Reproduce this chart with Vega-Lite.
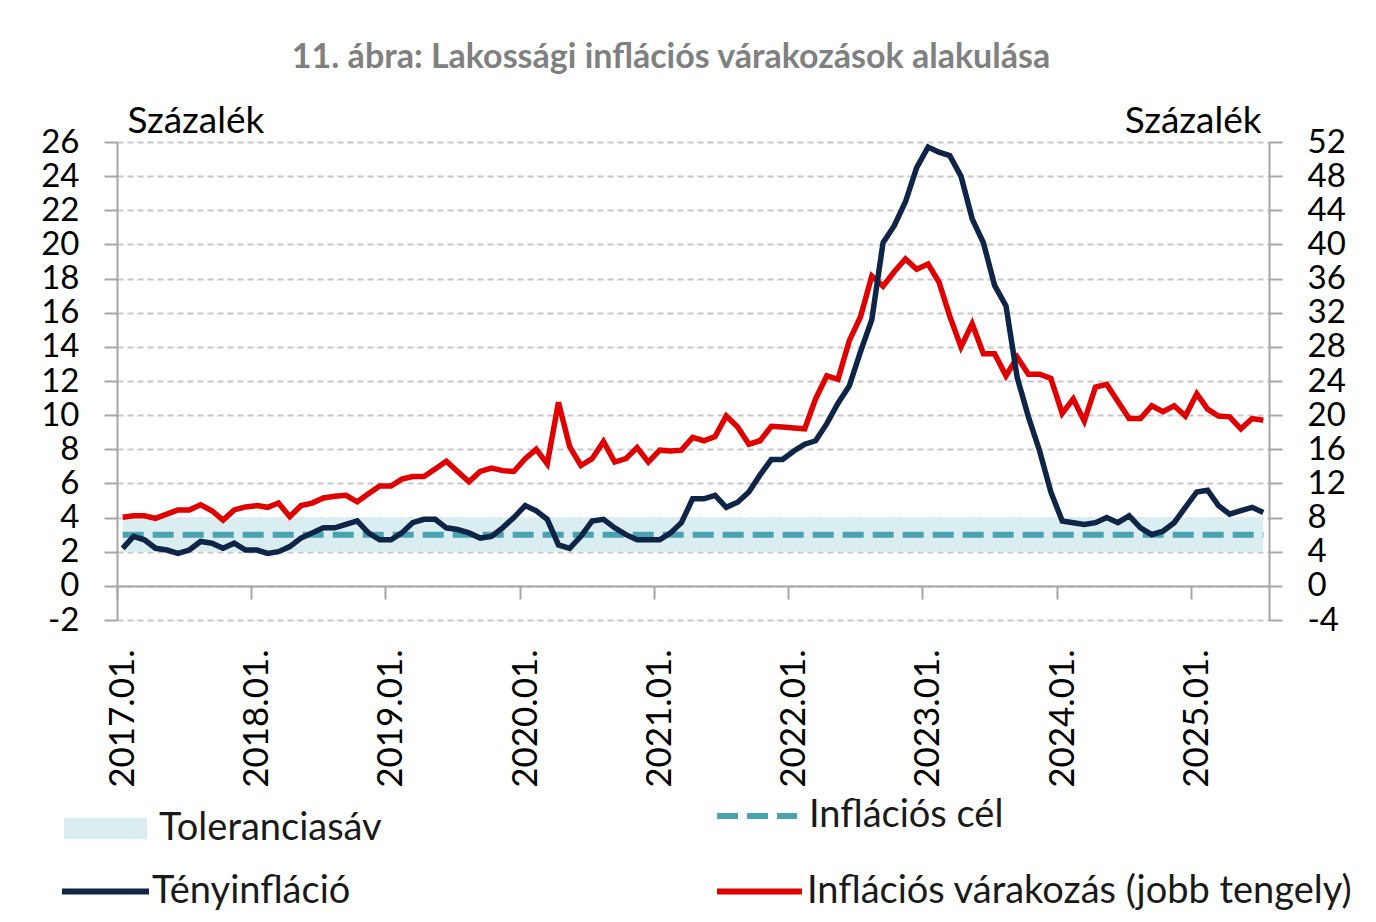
{
  "$schema": "https://vega.github.io/schema/vega-lite/v6.json",
  "width": 1152,
  "height": 478,
  "padding": {"left": 40, "top": 41, "right": 10, "bottom": 5},
  "background": "white",
  "config": {"view": {"stroke": null}, "font": "Lato", "axis": {"labelOverlap": false}},
  "title": {"text": "11. ábra: Lakossági inflációs várakozások alakulása", "anchor": "middle", "frame": "group", "offset": 27, "fontSize": 34, "font": "Lato", "fontWeight": "bold", "color": "#808080", "dx": -22},
  "data": {"values": [
    {"d":"2017-01","inf":2.2,"exp":8.05},{"d":"2017-02","inf":2.9,"exp":8.2},{"d":"2017-03","inf":2.7,"exp":8.2},{"d":"2017-04","inf":2.2,"exp":7.9},{"d":"2017-05","inf":2.1,"exp":8.4},{"d":"2017-06","inf":1.9,"exp":8.9},{"d":"2017-07","inf":2.1,"exp":8.9},{"d":"2017-08","inf":2.6,"exp":9.5},{"d":"2017-09","inf":2.5,"exp":8.8},{"d":"2017-10","inf":2.2,"exp":7.7},{"d":"2017-11","inf":2.5,"exp":8.9},{"d":"2017-12","inf":2.1,"exp":9.25},
    {"d":"2018-01","inf":2.1,"exp":9.4},{"d":"2018-02","inf":1.9,"exp":9.2},{"d":"2018-03","inf":2.0,"exp":9.7},{"d":"2018-04","inf":2.3,"exp":8.1},{"d":"2018-05","inf":2.8,"exp":9.4},{"d":"2018-06","inf":3.1,"exp":9.7},{"d":"2018-07","inf":3.4,"exp":10.3},{"d":"2018-08","inf":3.4,"exp":10.5},{"d":"2018-09","inf":3.6,"exp":10.6},{"d":"2018-10","inf":3.8,"exp":9.85},{"d":"2018-11","inf":3.1,"exp":10.8},{"d":"2018-12","inf":2.7,"exp":11.7},
    {"d":"2019-01","inf":2.7,"exp":11.7},{"d":"2019-02","inf":3.1,"exp":12.5},{"d":"2019-03","inf":3.7,"exp":12.8},{"d":"2019-04","inf":3.9,"exp":12.8},{"d":"2019-05","inf":3.9,"exp":13.7},{"d":"2019-06","inf":3.4,"exp":14.6},{"d":"2019-07","inf":3.3,"exp":13.4},{"d":"2019-08","inf":3.1,"exp":12.2},{"d":"2019-09","inf":2.8,"exp":13.4},{"d":"2019-10","inf":2.9,"exp":13.8},{"d":"2019-11","inf":3.4,"exp":13.5},{"d":"2019-12","inf":4.0,"exp":13.4},
    {"d":"2020-01","inf":4.7,"exp":14.9},{"d":"2020-02","inf":4.4,"exp":16.0},{"d":"2020-03","inf":3.9,"exp":14.3},{"d":"2020-04","inf":2.4,"exp":21.5},{"d":"2020-05","inf":2.2,"exp":16.3},{"d":"2020-06","inf":2.9,"exp":14.1},{"d":"2020-07","inf":3.8,"exp":14.9},{"d":"2020-08","inf":3.9,"exp":16.9},{"d":"2020-09","inf":3.4,"exp":14.5},{"d":"2020-10","inf":3.0,"exp":14.9},{"d":"2020-11","inf":2.7,"exp":16.2},{"d":"2020-12","inf":2.7,"exp":14.5},
    {"d":"2021-01","inf":2.7,"exp":15.9},{"d":"2021-02","inf":3.1,"exp":15.8},{"d":"2021-03","inf":3.7,"exp":15.9},{"d":"2021-04","inf":5.1,"exp":17.4},{"d":"2021-05","inf":5.1,"exp":17.0},{"d":"2021-06","inf":5.3,"exp":17.5},{"d":"2021-07","inf":4.6,"exp":19.9},{"d":"2021-08","inf":4.9,"exp":18.6},{"d":"2021-09","inf":5.5,"exp":16.6},{"d":"2021-10","inf":6.5,"exp":17.0},{"d":"2021-11","inf":7.4,"exp":18.7},{"d":"2021-12","inf":7.4,"exp":18.6},
    {"d":"2022-01","inf":7.9,"exp":18.5},{"d":"2022-02","inf":8.3,"exp":18.4},{"d":"2022-03","inf":8.5,"exp":21.9},{"d":"2022-04","inf":9.5,"exp":24.6},{"d":"2022-05","inf":10.7,"exp":24.2},{"d":"2022-06","inf":11.7,"exp":28.7},{"d":"2022-07","inf":13.7,"exp":31.5},{"d":"2022-08","inf":15.6,"exp":36.3},{"d":"2022-09","inf":20.1,"exp":35.1},{"d":"2022-10","inf":21.1,"exp":36.8},{"d":"2022-11","inf":22.5,"exp":38.3},{"d":"2022-12","inf":24.5,"exp":37.1},
    {"d":"2023-01","inf":25.7,"exp":37.7},{"d":"2023-02","inf":25.4,"exp":35.6},{"d":"2023-03","inf":25.2,"exp":31.6},{"d":"2023-04","inf":24.0,"exp":28.0},{"d":"2023-05","inf":21.5,"exp":30.7},{"d":"2023-06","inf":20.1,"exp":27.2},{"d":"2023-07","inf":17.6,"exp":27.2},{"d":"2023-08","inf":16.4,"exp":24.6},{"d":"2023-09","inf":12.2,"exp":26.8},{"d":"2023-10","inf":9.9,"exp":24.8},{"d":"2023-11","inf":7.9,"exp":24.8},{"d":"2023-12","inf":5.5,"exp":24.3},
    {"d":"2024-01","inf":3.8,"exp":20.2},{"d":"2024-02","inf":3.7,"exp":21.9},{"d":"2024-03","inf":3.6,"exp":19.3},{"d":"2024-04","inf":3.7,"exp":23.3},{"d":"2024-05","inf":4.0,"exp":23.6},{"d":"2024-06","inf":3.7,"exp":21.6},{"d":"2024-07","inf":4.1,"exp":19.6},{"d":"2024-08","inf":3.4,"exp":19.6},{"d":"2024-09","inf":3.0,"exp":21.1},{"d":"2024-10","inf":3.2,"exp":20.4},{"d":"2024-11","inf":3.7,"exp":21.1},{"d":"2024-12","inf":4.6,"exp":19.9},
    {"d":"2025-01","inf":5.5,"exp":22.5},{"d":"2025-02","inf":5.6,"exp":20.7},{"d":"2025-03","inf":4.7,"exp":19.9},{"d":"2025-04","inf":4.2,"exp":19.8},{"d":"2025-05","inf":4.4,"exp":18.4},{"d":"2025-06","inf":4.6,"exp":19.6},{"d":"2025-07","inf":4.3,"exp":19.4}
  ]},
  "encoding": {
    "x": {
      "field": "d", "type": "temporal", "timeUnit": "utcyearmonth", "bandPosition": 0.5,
      "scale": {"domain": [{"year": 2017, "month": 1, "date": 1, "utc": true}, {"year": 2025, "month": 8, "date": 1, "utc": true}], "nice": false},
      "axis": {
        "title": null, "orient": "bottom", "offset": -34, "grid": false,
        "values": [{"year":2017,"month":1,"date":1,"utc":true},{"year":2018,"month":1,"date":1,"utc":true},{"year":2019,"month":1,"date":1,"utc":true},{"year":2020,"month":1,"date":1,"utc":true},{"year":2021,"month":1,"date":1,"utc":true},{"year":2022,"month":1,"date":1,"utc":true},{"year":2023,"month":1,"date":1,"utc":true},{"year":2024,"month":1,"date":1,"utc":true},{"year":2025,"month":1,"date":1,"utc":true}],
        "labelExpr": "utcFormat(datum.value, '%Y.%m.')",
        "labelAngle": 270, "labelAlign": "right", "labelBaseline": "middle",
        "labelFont": "Lato", "labelFontSize": 35, "labelColor": "#000000",
        "labelPadding": 50, "labelOffset": 5.6, "labelOverlap": false, "labelFlush": false,
        "domainColor": "#a6a6a6", "domainWidth": 2, "tickColor": "#a6a6a6", "tickWidth": 2, "tickSize": 13
      }
    }
  },
  "layer": [
    {
      "mark": {"type": "area"},
      "encoding": {
        "y": {"datum": 4, "type": "quantitative",
          "scale": {"domain": [-2, 26], "nice": false, "zero": false},
          "axis": {
            "orient": "left", "values": [-2,0,2,4,6,8,10,12,14,16,18,20,22,24,26],
            "labelExpr": "datum.value + ''",
            "title": "Százalék", "titleAngle": 0, "titleAlign": "left", "titleBaseline": "alphabetic", "titleX": 10, "titleY": -10,
            "titleFont": "Lato", "titleFontSize": 37, "titleFontWeight": "normal", "titleColor": "#000000",
            "labelFont": "Lato", "labelFontSize": 33, "labelColor": "#000000", "labelPadding": 25, "labelOverlap": false, "labelFlush": false,
            "domainColor": "#a6a6a6", "domainWidth": 2, "tickColor": "#a6a6a6", "tickWidth": 2, "tickSize": 13,
            "grid": true, "gridColor": "#c8c8c8", "gridWidth": 2, "gridDash": [6, 4]
          }
        },
        "y2": {"datum": 2},
        "fill": {"datum": "Toleranciasáv", "type": "nominal", "scale": {"range": ["#daedf1"]},
          "legend": {"orient": "none", "legendX": -53, "legendY": 645, "title": null, "padding": 0,
            "symbolType": "M-1,-0.26H1V0.26H-1Z", "symbolSize": 6889, "symbolStrokeWidth": 0,
            "labelFont": "Lato", "labelFontSize": 38, "labelColor": "#1a1a1a", "labelLimit": 0, "labelOffset": 12}}
      }
    },
    {
      "mark": {"type": "line", "stroke": "#4ba3b0", "strokeWidth": 6},
      "encoding": {
        "y": {"datum": 3, "type": "quantitative", "scale": {"domain": [-2, 26], "nice": false, "zero": false}, "axis": null},
        "strokeDash": {"datum": "Inflációs cél", "type": "nominal", "scale": {"range": [[21, 9]]},
          "legend": {"orient": "none", "legendX": 597, "legendY": 631, "title": null, "padding": 0,
            "symbolType": "stroke", "symbolSize": 6400, "symbolStrokeWidth": 6, "symbolStrokeColor": "#4ba3b0",
            "labelFont": "Lato", "labelFontSize": 38, "labelColor": "#1a1a1a", "labelLimit": 0, "labelOffset": 9}}
      }
    },
    {
      "mark": {"type": "line", "strokeWidth": 5.5},
      "encoding": {
        "y": {"field": "exp", "type": "quantitative",
          "scale": {"domain": [-4, 52], "nice": false, "zero": false},
          "axis": {
            "orient": "right", "values": [-4,0,4,8,12,16,20,24,28,32,36,40,44,48,52],
            "labelExpr": "datum.value + ''",
            "title": "Százalék", "titleAngle": 0, "titleAlign": "right", "titleBaseline": "alphabetic", "titleX": -8, "titleY": -10,
            "titleFont": "Lato", "titleFontSize": 37, "titleFontWeight": "normal", "titleColor": "#000000",
            "labelFont": "Lato", "labelFontSize": 33, "labelColor": "#000000", "labelPadding": 25, "labelOverlap": false, "labelFlush": false,
            "domainColor": "#a6a6a6", "domainWidth": 2, "tickColor": "#a6a6a6", "tickWidth": 2, "tickSize": 13, "grid": false
          }
        },
        "stroke": {"datum": "Inflációs várakozás (jobb tengely)", "type": "nominal", "scale": {"range": ["#e00000"]},
          "legend": {"orient": "none", "legendX": 597, "legendY": 704, "title": null, "padding": 0,
            "symbolType": "stroke", "symbolSize": 7225, "symbolStrokeWidth": 6,
            "labelFont": "Lato", "labelFontSize": 38, "labelColor": "#1a1a1a", "labelLimit": 0, "labelOffset": 2}}
      }
    },
    {
      "mark": {"type": "line", "strokeWidth": 5.5},
      "encoding": {
        "y": {"field": "inf", "type": "quantitative", "scale": {"domain": [-2, 26], "nice": false, "zero": false}, "axis": null},
        "color": {"datum": "Tényinfláció", "type": "nominal", "scale": {"range": ["#0f2548"]},
          "legend": {"orient": "none", "legendX": -58, "legendY": 703, "title": null, "padding": 0,
            "symbolType": "stroke", "symbolSize": 7569, "symbolStrokeWidth": 6,
            "labelFont": "Lato", "labelFontSize": 38, "labelColor": "#1a1a1a", "labelLimit": 0, "labelOffset": 0}}
      }
    }
  ],
  "resolve": {"scale": {"y": "independent"}, "axis": {"y": "independent"}}
}
